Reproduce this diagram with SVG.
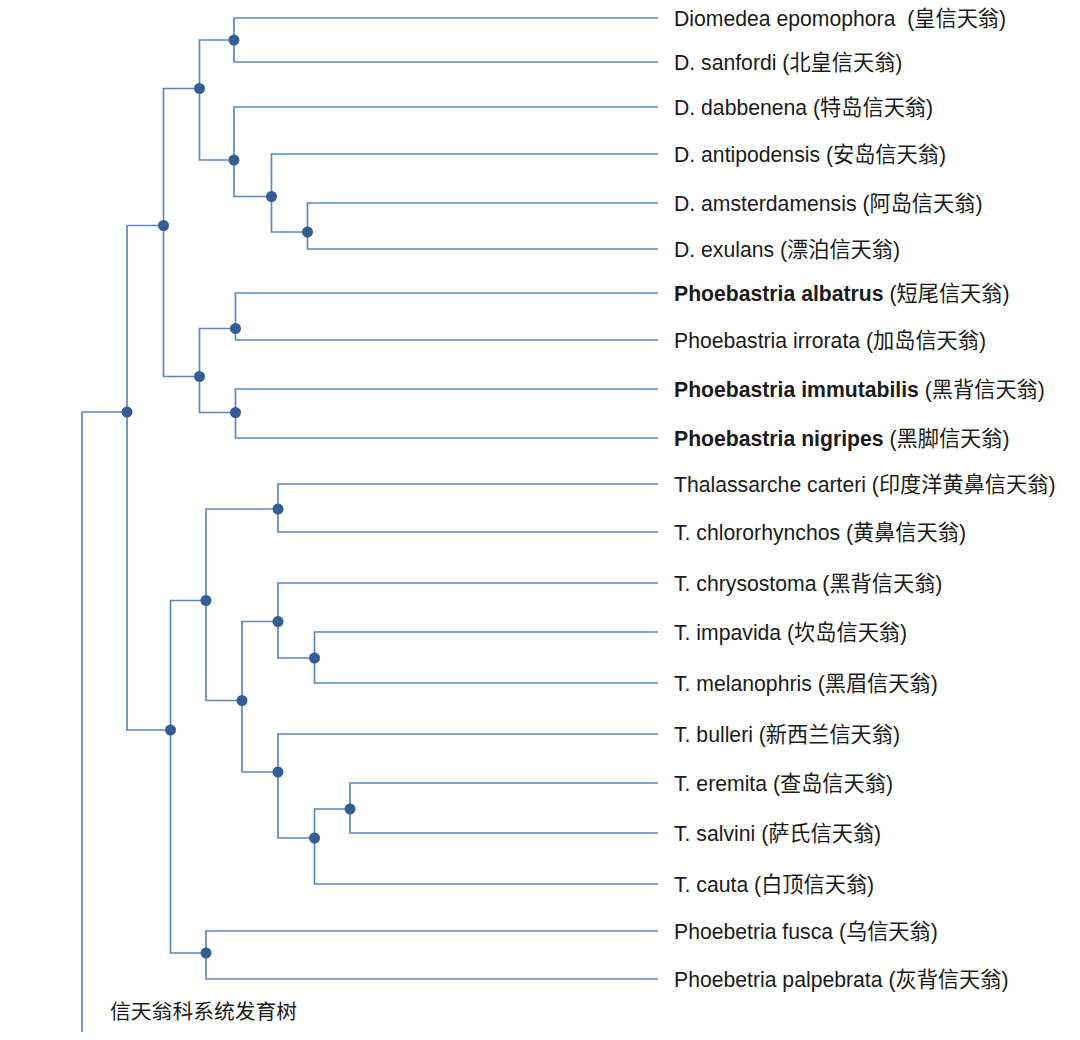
<svg xmlns="http://www.w3.org/2000/svg" width="1080" height="1040" viewBox="0 0 1080 1040">
<style>
.c{fill:none;stroke:#5b87c4;stroke-width:1.7}
.n{fill:#345d94}
.t{font-family:"Liberation Sans","Noto Sans CJK SC",sans-serif;font-size:21.2px;fill:#1a1a1a}
.b{font-weight:bold}
.title{font-family:"Noto Sans CJK SC","Liberation Sans",sans-serif;font-size:20.8px;fill:#1a1a1a}
</style>
<rect width="1080" height="1040" fill="#fff"/>
<g id="connectors">
<path class="c" d="M82,1032 V412 H127"/>
<path class="c" d="M127,412 V225.5 H163.5"/>
<path class="c" d="M127,412 V730 H170.5"/>
<path class="c" d="M163.5,225.5 V88.5 H199.5"/>
<path class="c" d="M163.5,225.5 V376.5 H199.5"/>
<path class="c" d="M199.5,88.5 V40 H234"/>
<path class="c" d="M199.5,88.5 V160 H234"/>
<path class="c" d="M234,40 V18 H658"/>
<path class="c" d="M234,40 V62 H658"/>
<path class="c" d="M234,160 V107 H658"/>
<path class="c" d="M234,160 V196.5 H271.5"/>
<path class="c" d="M271.5,196.5 V154 H658"/>
<path class="c" d="M271.5,196.5 V232 H307.5"/>
<path class="c" d="M307.5,232 V203 H658"/>
<path class="c" d="M307.5,232 V249 H658"/>
<path class="c" d="M199.5,376.5 V328.5 H235.5"/>
<path class="c" d="M199.5,376.5 V412.5 H235.5"/>
<path class="c" d="M235.5,328.5 V293 H658"/>
<path class="c" d="M235.5,328.5 V340 H658"/>
<path class="c" d="M235.5,412.5 V389 H658"/>
<path class="c" d="M235.5,412.5 V438 H658"/>
<path class="c" d="M170.5,730 V600.5 H206"/>
<path class="c" d="M170.5,730 V953 H206"/>
<path class="c" d="M206,600.5 V509 H278"/>
<path class="c" d="M206,600.5 V700.5 H242"/>
<path class="c" d="M278,509 V484 H658"/>
<path class="c" d="M278,509 V532 H658"/>
<path class="c" d="M242,700.5 V621.5 H278"/>
<path class="c" d="M242,700.5 V772 H278"/>
<path class="c" d="M278,621.5 V583 H658"/>
<path class="c" d="M278,621.5 V658 H314.5"/>
<path class="c" d="M314.5,658 V632 H658"/>
<path class="c" d="M314.5,658 V683 H658"/>
<path class="c" d="M278,772 V734 H658"/>
<path class="c" d="M278,772 V838 H314.5"/>
<path class="c" d="M314.5,838 V809 H350"/>
<path class="c" d="M314.5,838 V884 H658"/>
<path class="c" d="M350,809 V783 H658"/>
<path class="c" d="M350,809 V833 H658"/>
<path class="c" d="M206,953 V931 H658"/>
<path class="c" d="M206,953 V979 H658"/>
</g>
<g id="node-root"><circle class="n" cx="127" cy="412" r="5.5"/></g>
<g id="node-diomedea-phoebastria"><circle class="n" cx="163.5" cy="225.5" r="5.5"/></g>
<g id="node-diomedea"><circle class="n" cx="199.5" cy="88.5" r="5.5"/></g>
<g id="node-royal"><circle class="n" cx="234" cy="40" r="5.5"/></g>
<g id="node-wandering"><circle class="n" cx="234" cy="160" r="5.5"/></g>
<g id="node-wandering2"><circle class="n" cx="271.5" cy="196.5" r="5.5"/></g>
<g id="node-wandering3"><circle class="n" cx="307.5" cy="232" r="5.5"/></g>
<g id="node-phoebastria"><circle class="n" cx="199.5" cy="376.5" r="5.5"/></g>
<g id="node-phoebastria1"><circle class="n" cx="235.5" cy="328.5" r="5.5"/></g>
<g id="node-phoebastria2"><circle class="n" cx="235.5" cy="412.5" r="5.5"/></g>
<g id="node-thal-phoeb"><circle class="n" cx="170.5" cy="730" r="5.5"/></g>
<g id="node-thalassarche"><circle class="n" cx="206" cy="600.5" r="5.5"/></g>
<g id="node-thal1"><circle class="n" cx="278" cy="509" r="5.5"/></g>
<g id="node-thal2"><circle class="n" cx="242" cy="700.5" r="5.5"/></g>
<g id="node-thal3"><circle class="n" cx="278" cy="621.5" r="5.5"/></g>
<g id="node-thal4"><circle class="n" cx="314.5" cy="658" r="5.5"/></g>
<g id="node-thal5"><circle class="n" cx="278" cy="772" r="5.5"/></g>
<g id="node-thal6"><circle class="n" cx="314.5" cy="838" r="5.5"/></g>
<g id="node-thal7"><circle class="n" cx="350" cy="809" r="5.5"/></g>
<g id="node-phoebetria"><circle class="n" cx="206" cy="953" r="5.5"/></g>
<g id="leaf-epomophora"><text class="t" x="674" y="25.5">Diomedea epomophora&#160; (皇信天翁)</text></g>
<g id="leaf-sanfordi"><text class="t" x="674" y="69.5">D. sanfordi (北皇信天翁)</text></g>
<g id="leaf-dabbenena"><text class="t" x="674" y="114.5">D. dabbenena (特岛信天翁)</text></g>
<g id="leaf-antipodensis"><text class="t" x="674" y="161.5">D. antipodensis (安岛信天翁)</text></g>
<g id="leaf-amsterdamensis"><text class="t" x="674" y="210.5">D. amsterdamensis (阿岛信天翁)</text></g>
<g id="leaf-exulans"><text class="t" x="674" y="256.5">D. exulans (漂泊信天翁)</text></g>
<g id="leaf-albatrus"><text class="t" x="674" y="300.5"><tspan class="b">Phoebastria albatrus</tspan> (短尾信天翁)</text></g>
<g id="leaf-irrorata"><text class="t" x="674" y="347.5">Phoebastria irrorata (加岛信天翁)</text></g>
<g id="leaf-immutabilis"><text class="t" x="674" y="396.5"><tspan class="b">Phoebastria immutabilis</tspan> (黑背信天翁)</text></g>
<g id="leaf-nigripes"><text class="t" x="674" y="445.5"><tspan class="b">Phoebastria nigripes</tspan> (黑脚信天翁)</text></g>
<g id="leaf-carteri"><text class="t" x="674" y="491.5">Thalassarche carteri (印度洋黄鼻信天翁)</text></g>
<g id="leaf-chlororhynchos"><text class="t" x="674" y="539.5">T. chlororhynchos (黄鼻信天翁)</text></g>
<g id="leaf-chrysostoma"><text class="t" x="674" y="590.5">T. chrysostoma (黑背信天翁)</text></g>
<g id="leaf-impavida"><text class="t" x="674" y="639.5">T. impavida (坎岛信天翁)</text></g>
<g id="leaf-melanophris"><text class="t" x="674" y="690.5">T. melanophris (黑眉信天翁)</text></g>
<g id="leaf-bulleri"><text class="t" x="674" y="741.5">T. bulleri (新西兰信天翁)</text></g>
<g id="leaf-eremita"><text class="t" x="674" y="790.5">T. eremita (查岛信天翁)</text></g>
<g id="leaf-salvini"><text class="t" x="674" y="840.5">T. salvini (萨氏信天翁)</text></g>
<g id="leaf-cauta"><text class="t" x="674" y="891.5">T. cauta (白顶信天翁)</text></g>
<g id="leaf-fusca"><text class="t" x="674" y="938.5">Phoebetria fusca (乌信天翁)</text></g>
<g id="leaf-palpebrata"><text class="t" x="674" y="986.5">Phoebetria palpebrata (灰背信天翁)</text></g>
<g id="title"><text class="title" x="110" y="1019">信天翁科系统发育树</text></g>
</svg>
